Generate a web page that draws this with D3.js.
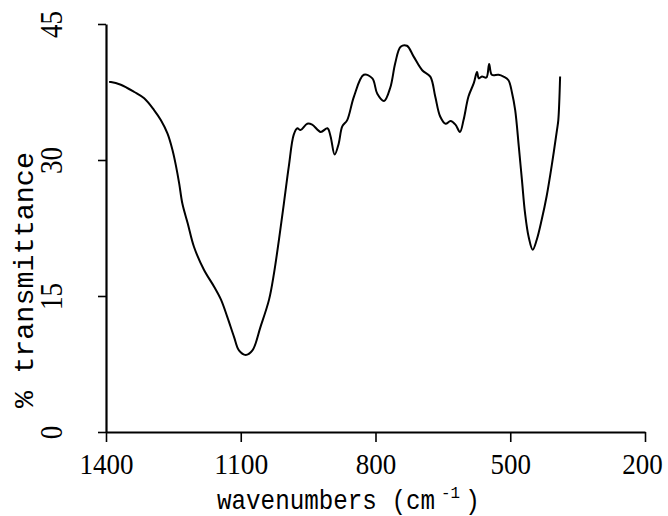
<!DOCTYPE html>
<html>
<head>
<meta charset="utf-8">
<script src="https://cdn.jsdelivr.net/npm/d3@7"></script>
<style>
  body { margin: 0; background: #fff; }
  svg { display: block; }
</style>
</head>
<body>
<div id="chart"></div>
<script>
// DATA
var wavenumbers = [1393, 1389, 1367, 1337, 1315, 1293, 1278, 1263, 1252, 1244, 1237, 1230, 1218, 1204, 1182,
    1159, 1144, 1130, 1115, 1104, 1089, 1074, 1056, 1037, 1026, 1015, 1004, 993, 982, 974, 967, 952, 941,
    922, 907, 900, 891, 882, 874, 863, 848, 826, 807, 796, 781, 767, 756, 744, 730, 715, 696, 678, 667,
    656, 644, 633, 622, 612, 604, 593, 581, 574, 570, 563, 553, 547, 541, 526, 515, 504, 496, 489, 481,
    474, 467, 459, 450, 441, 430, 419, 407, 396, 393, 389];
var transmittance = [38.6, 38.6, 38.3, 37.5, 36.8, 35.5, 34.4, 32.9, 31.1, 29.3, 27.4, 25.2, 23.0, 20.4, 17.9,
    16.0, 14.6, 12.7, 10.5, 9.0, 8.5, 9.0, 11.6, 14.6, 17.5, 21.2, 25.2, 29.3, 32.8, 33.5, 33.3, 34.0, 33.9,
    33.1, 33.5, 32.6, 30.6, 31.8, 33.7, 34.4, 37.0, 39.4, 39.0, 37.3, 36.5, 38.0, 40.7, 42.5, 42.6, 41.4, 39.9, 39.2, 37.0,
    34.8, 34.0, 34.3, 33.9, 33.1, 34.4, 37.0, 38.5, 39.7, 39.0, 39.2, 39.1, 40.6, 39.4, 39.4, 39.2, 38.8, 37.4, 35.5, 31.5,
    27.8, 24.1, 21.5, 20.1, 21.2, 23.4, 26.0, 29.6, 33.3, 34.4, 39.2];
var xTicks = [1400, 1100, 800, 500, 200];
var yTicks = [0, 15, 30, 45];
var xTitle = "wavenumbers (cm";
var xTitleSup = "-1";
var xTitleEnd = ")";
var yTitle = "% transmittance";

// SIZES
var svgWidth = 668;
var svgHeight = 516;
var digitFont = "'Liberation Serif', serif";
var textFont = "'Liberation Mono', monospace";

var svg = d3.select("#chart")
    .append("svg")
    .attr("width", svgWidth)
    .attr("height", svgHeight);

var xScale = d3.scaleLinear()
    .domain([1400, 200])
    .range([106, 645]);

var yScale = d3.scaleLinear()
    .domain([0, 45])
    .range([432, 24]);

// X axis
var xAxisG = svg.append("g")
    .attr("transform", "translate(0,432)")
    .call(d3.axisBottom(xScale).tickValues(xTicks).tickFormat(d3.format("d"))
        .tickSize(10).tickSizeOuter(0).tickPadding(0));
xAxisG.select(".domain").attr("stroke", "#000").attr("stroke-width", 2.2);
xAxisG.selectAll(".tick line").attr("stroke", "#000").attr("stroke-width", 1.6);
xAxisG.selectAll(".tick text")
    .attr("x", function(d) { return d == 200 ? -3 : 0; })
    .attr("y", 42)
    .attr("dy", null)
    .attr("fill", "#000")
    .style("font-family", digitFont)
    .style("font-size", "30px")
    .attr("textLength", function(d) { return String(d).length * 13.5; })
    .attr("lengthAdjust", "spacingAndGlyphs");

// Y axis
var yAxisG = svg.append("g")
    .attr("transform", "translate(106,0)")
    .call(d3.axisLeft(yScale).tickValues(yTicks).tickFormat(d3.format("d"))
        .tickSize(8).tickSizeOuter(0).tickPadding(0));
yAxisG.select(".domain").attr("stroke", "#000").attr("stroke-width", 2.2);
yAxisG.selectAll(".tick line").attr("stroke", "#000").attr("stroke-width", 1.6);
yAxisG.selectAll(".tick text")
    .attr("x", 0)
    .attr("dy", null)
    .attr("text-anchor", "middle")
    .attr("transform", "translate(-44,0) rotate(-90)")
    .attr("fill", "#000")
    .style("font-family", digitFont)
    .style("font-size", "31px")
    .attr("textLength", function(d) { return String(d).length * 13.5; })
    .attr("lengthAdjust", "spacingAndGlyphs");

// Spectrum line
var points = wavenumbers.map(function(w, i) {
    return { wn: w, t: transmittance[i] };
});

svg.append("path")
    .datum(points)
    .attr("fill", "none")
    .attr("stroke", "#000")
    .attr("stroke-width", 2)
    .attr("stroke-linejoin", "round")
    .attr("d", d3.line()
        .curve(d3.curveCatmullRom.alpha(0.5))
        .x(d => xScale(d.wn))
        .y(d => yScale(d.t)));

// Axis titles
svg.append("text")
    .attr("x", 217)
    .attr("y", 509)
    .attr("fill", "#000")
    .style("font-family", textFont)
    .style("font-size", "28px")
    .attr("textLength", 218)
    .attr("lengthAdjust", "spacingAndGlyphs")
    .text(xTitle);
svg.append("text")
    .attr("x", 441)
    .attr("y", 498)
    .attr("fill", "#000")
    .style("font-family", textFont)
    .style("font-size", "16px")
    .attr("textLength", 19)
    .attr("lengthAdjust", "spacingAndGlyphs")
    .text(xTitleSup);
svg.append("text")
    .attr("x", 465)
    .attr("y", 509)
    .attr("fill", "#000")
    .style("font-family", textFont)
    .style("font-size", "28px")
    .attr("textLength", 15)
    .attr("lengthAdjust", "spacingAndGlyphs")
    .text(xTitleEnd);

svg.append("text")
    .attr("transform", "translate(33,280) rotate(-90)")
    .attr("text-anchor", "middle")
    .attr("fill", "#000")
    .style("font-family", textFont)
    .style("font-size", "27px")
    .attr("textLength", 256)
    .attr("lengthAdjust", "spacingAndGlyphs")
    .text(yTitle);
</script>
</body>
</html>
